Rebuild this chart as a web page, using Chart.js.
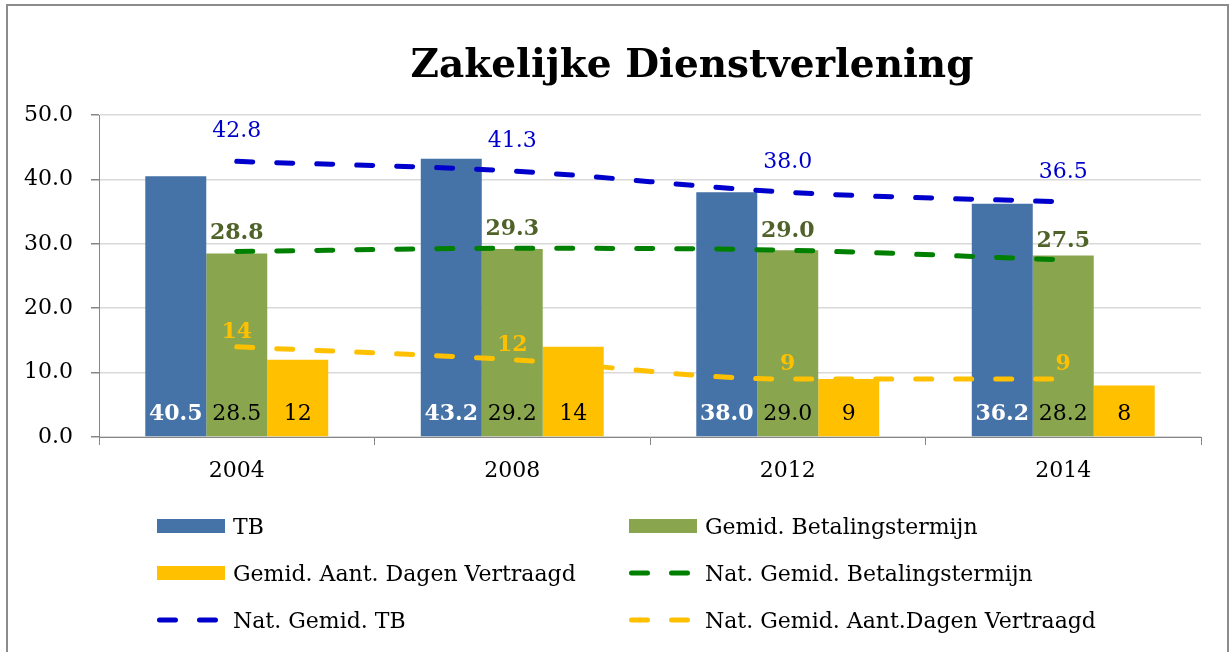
<!DOCTYPE html>
<html>
<head>
<meta charset="utf-8">
<script src="https://cdn.jsdelivr.net/npm/chart.js@4/dist/chart.umd.min.js"></script>
<style>
  html, body { margin: 0; padding: 0; background: #fff; overflow: hidden; }
  #frame { position: absolute; left: 6px; top: 4px; width: 1219px; height: 700px; border: 2px solid #8c8c8c; pointer-events: none; }
  canvas { position: absolute; left: 0; top: 0; }
</style>
</head>
<body>
<canvas id="chart" width="1232" height="652"></canvas>
<div id="frame"></div>
<script>
const years = ['2004', '2008', '2012', '2014'];
const tb = [40.5, 43.2, 38.0, 36.2];
const betalingstermijn = [28.5, 29.2, 29.0, 28.2];
const dagenVertraagd = [12, 14, 9, 8];
const natBetalingstermijn = [28.8, 29.3, 29.0, 27.5];
const natTb = [42.8, 41.3, 38.0, 36.5];
const natDagenVertraagd = [14, 12, 9, 9];
const yTicks = [0, 10, 20, 30, 40, 50];

const FONT = '"DejaVu Serif"';
Chart.defaults.font.family = FONT;
Chart.defaults.font.size = 22;
Chart.defaults.color = '#000';

// labels on bars (bottom, inside) and above line points
const valueLabels = {
  id: 'valueLabels',
  afterDatasetsDraw (chart) {
    const ctx = chart.ctx;
    const base = chart.scales.y.getPixelForValue(0);
    chart.data.datasets.forEach((ds, i) => {
      const meta = chart.getDatasetMeta(i);
      ctx.save();
      ctx.font = (ds.labelBold ? 'bold ' : '') + '22px ' + FONT;
      ctx.fillStyle = ds.labelColor;
      ctx.textAlign = 'center';
      ctx.textBaseline = 'alphabetic';
      meta.data.forEach((el, j) => {
        const txt = ds.data[j].toFixed(ds.decimals);
        const y = meta.type === 'bar' ? base - 17 : el.y - ds.labelOffset;
        ctx.fillText(txt, el.x, y);
      });
      ctx.restore();
    });
  }
};

// two-column legend like the original
const gridLegend = {
  id: 'gridLegend',
  afterDraw (chart) {
    const ctx = chart.ctx;
    const cols = [157, 629];
    const rows = [526, 573, 620];
    chart.data.datasets.forEach((ds, i) => {
      const x = cols[i % 2];
      const y = rows[Math.floor(i / 2)];
      ctx.save();
      if (ds.type === 'line') {
        ctx.strokeStyle = ds.borderColor;
        ctx.lineWidth = 5;
        ctx.lineCap = 'round';
        ctx.setLineDash([16, 24]);
        ctx.beginPath();
        ctx.moveTo(x + 2.5, y);
        ctx.lineTo(x + 65.5, y);
        ctx.stroke();
      } else {
        ctx.fillStyle = ds.backgroundColor;
        ctx.fillRect(x, y - 7, 68, 14);
      }
      ctx.font = '22px ' + FONT;
      ctx.fillStyle = '#000';
      ctx.textBaseline = 'alphabetic';
      ctx.fillText(ds.label, x + 76, y + 8);
      ctx.restore();
    });
  }
};

const chartTitle = {
  id: 'chartTitle',
  afterDraw (chart) {
    const ctx = chart.ctx;
    ctx.save();
    ctx.font = 'bold 39px ' + FONT;
    ctx.fillStyle = '#000';
    ctx.textAlign = 'center';
    ctx.fillText('Zakelijke Dienstverlening', 692, 77);
    ctx.restore();
  }
};

function lineSet (label, data, color, labelColor, bold, offset, decimals) {
  return {
    type: 'line', label: label, data: data,
    borderColor: color, backgroundColor: color,
    borderWidth: 5, borderDash: [16, 24], borderCapStyle: 'round',
    pointRadius: 0, cubicInterpolationMode: 'monotone',
    order: 0,
    labelColor: labelColor, labelBold: bold, labelOffset: offset, decimals: decimals
  };
}

new Chart(document.getElementById('chart'), {
  type: 'bar',
  data: {
    labels: years,
    datasets: [
      { label: 'TB', data: tb, backgroundColor: '#4572A7', order: 1,
        labelColor: '#fff', labelBold: true, decimals: 1 },
      { label: 'Gemid. Betalingstermijn', data: betalingstermijn, backgroundColor: '#89A54E', order: 1,
        labelColor: '#000', labelBold: false, decimals: 1 },
      { label: 'Gemid. Aant. Dagen Vertraagd', data: dagenVertraagd, backgroundColor: '#FFC000', order: 1,
        labelColor: '#000', labelBold: false, decimals: 0 },
      lineSet('Nat. Gemid. Betalingstermijn', natBetalingstermijn, '#008000', '#4F6228', true, 13, 1),
      lineSet('Nat. Gemid. TB', natTb, '#0000CC', '#0000CC', false, 24, 1),
      lineSet('Nat. Gemid. Aant.Dagen Vertraagd', natDagenVertraagd, '#FFC000', '#FFC000', true, 9, 0)
    ]
  },
  options: {
    responsive: false,
    animation: false,
    devicePixelRatio: 1,
    layout: { padding: { left: 0, right: 31, top: 115, bottom: 165 } },
    datasets: { bar: { categoryPercentage: 0.664, barPercentage: 1 } },
    plugins: { legend: { display: false }, title: { display: false }, tooltip: { enabled: false } },
    scales: {
      x: {
        grid: { drawOnChartArea: false, drawTicks: true, tickLength: 8, color: '#868686' },
        border: { color: '#868686', width: 1 },
        ticks: { padding: 13, font: { size: 22 } },
        afterFit: (scale) => { scale.height = 50; }
      },
      y: {
        min: 0, max: 50,
        afterBuildTicks: (scale) => { scale.ticks = yTicks.map(v => ({ value: v })); },
        ticks: { padding: 18, callback: (v) => Number(v).toFixed(1), font: { size: 22 } },
        grid: { color: '#D9D9D9', tickColor: '#868686', tickLength: 8, lineWidth: 1.5 },
        border: { color: '#868686', width: 1 },
        afterFit: (scale) => { scale.width = 99; }
      }
    }
  },
  plugins: [valueLabels, gridLegend, chartTitle]
});
</script>
</body>
</html>
